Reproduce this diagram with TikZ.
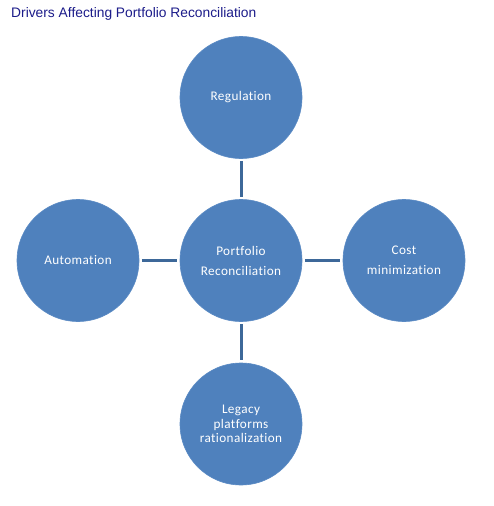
\documentclass[tikz,border=0pt]{standalone}
\usepackage{fontspec}
\setmainfont{Carlito}[LetterSpace=3,Ligatures={NoCommon}]
\newfontfamily\titlefont{Liberation Sans}
\definecolor{circfill}{HTML}{4F81BD}
\definecolor{circedge}{HTML}{5A8AC4}
\definecolor{linkcol}{HTML}{3D6899}
\definecolor{titlecol}{HTML}{1C1C8A}
\begin{document}
\begin{tikzpicture}[x=1pt,y=-1pt,
  bubble/.style={circle,fill=circfill,draw=circedge,line width=0.6pt,minimum size=122pt,inner sep=0pt,
    text=white,align=center,font=\fontsize{13.2}{20}\selectfont},
  link/.style={draw=linkcol,line width=3pt,shorten >=2.5pt,shorten <=2.5pt}]
\useasboundingbox (0,0) rectangle (493,506);
\fill[white] (0,0) rectangle (493,506);
\node[anchor=base west,text=titlecol,font=\titlefont\fontsize{13.8}{16}\selectfont,inner sep=0pt] (title) at (11,17) {Drivers Affecting Portfolio Reconciliation};
\node[bubble] (center) at (241,260.5) {Portfolio\\Reconciliation};
\node[bubble] (top) at (241,97.5) {Regulation};
\node[bubble] (left) at (78,260.5) {Automation};
\node[bubble] (right) at (404,260.5) {Cost\\minimization};
\node[bubble,font=\fontsize{13.2}{14.5}\selectfont] (bottom) at (241,424) {Legacy\\platforms\\rationalization};
\draw[link] (top.south) -- (center.north);
\draw[link] (left.east) -- (center.west);
\draw[link] (center.east) -- (right.west);
\draw[link] (center.south) -- (bottom.north);
\end{tikzpicture}
\end{document}
